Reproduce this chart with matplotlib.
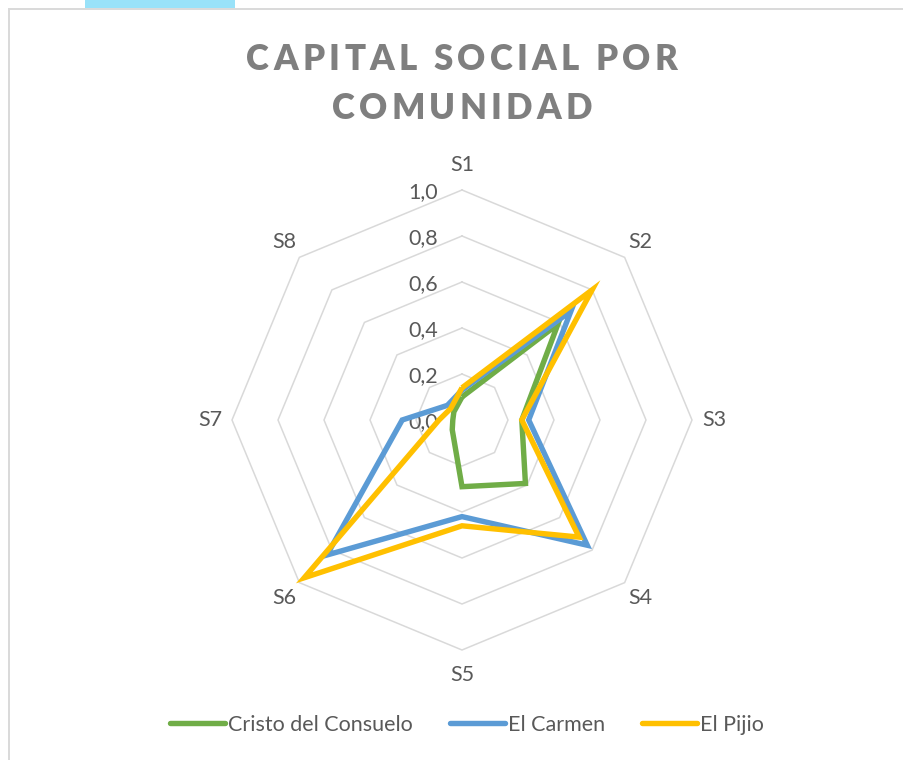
import numpy as np
import matplotlib
matplotlib.use("Agg")
import matplotlib.pyplot as plt
from matplotlib.font_manager import FontProperties
from matplotlib.lines import Line2D
from matplotlib.patches import Rectangle

# ---------------- data ----------------
categories = ["S1", "S2", "S3", "S4", "S5", "S6", "S7", "S8"]
series_names = ["Cristo del Consuelo", "El Carmen", "El Pijio"]
cristo = [0.10, 0.59, 0.26, 0.39, 0.29, 0.06, 0.04, 0.05]
carmen = [0.13, 0.67, 0.29, 0.77, 0.42, 0.83, 0.26, 0.09]
pijio = [0.14, 0.80, 0.26, 0.72, 0.46, 0.97, 0.10, 0.07]
tick_values = [0.0, 0.2, 0.4, 0.6, 0.8, 1.0]
tick_labels = ["0,0", "0,2", "0,4", "0,6", "0,8", "1,0"]
title_lines = ["CAPITAL SOCIAL POR", "COMUNIDAD"]

colors = ["#70AD47", "#5B9BD5", "#FFC000"]
grid_color = "#D9D9D9"
text_color = "#595959"
title_color = "#7F7F7F"
FONT = "Lato"
FS = 15.5

W, H = 904, 760
fig = plt.figure(figsize=(W / 100, H / 100), dpi=100)
fig.patch.set_facecolor("white")

# chart frame + top accent bar (figure pixel coords -> fraction)
fig.patches.append(Rectangle((8.5 / W, -0.1), 1.2, 1 - 9.5 / H + 0.1,
                             transform=fig.transFigure, fill=False,
                             edgecolor="#D9D9D9", linewidth=1.4, zorder=0))
fig.patches.append(Rectangle((85 / W, 1 - 8 / H), 150 / W, 8 / H,
                             transform=fig.transFigure, facecolor="#99E2F9",
                             edgecolor="none", zorder=0))

# axes: center at (462, 420) px, radius 1.0 = 230 px
cx, cy, R = 462, 420, 230
half = 300
ax = fig.add_axes([(cx - half) / W, (H - cy - half) / H, 2 * half / W, 2 * half / H])
lim = half / R
ax.set_xlim(-lim, lim)
ax.set_ylim(-lim, lim)
ax.set_aspect("equal")
ax.axis("off")

n = len(categories)
angles = np.pi / 2 - 2 * np.pi * np.arange(n) / n


def to_xy(vals):
    v = np.asarray(vals, dtype=float)
    x = v * np.cos(angles)
    y = v * np.sin(angles)
    return np.append(x, x[0]), np.append(y, y[0])


# grid octagons
for tv in tick_values[1:]:
    gx, gy = to_xy([tv] * n)
    ax.plot(gx, gy, color=grid_color, lw=1.1, zorder=1, solid_joinstyle="miter")

# tick labels
for tv, tl in zip(tick_values, tick_labels):
    ax.text(-0.105, tv - 0.008, tl, ha="right", va="center", fontsize=FS,
            color=text_color, family=FONT, zorder=2)

# category labels
for a, c in zip(angles, categories):
    rr = 1.11 if abs(np.cos(a)) < 0.1 else 1.095
    ax.text(rr * np.cos(a), rr * np.sin(a), c, ha="center", va="center",
            fontsize=FS, color=text_color, family=FONT)

# data series
handles = []
for vals, col, name in zip([cristo, carmen, pijio], colors, series_names):
    x, y = to_xy(vals)
    ax.plot(x, y, color=col, lw=3.9, zorder=3, solid_joinstyle="miter",
            solid_capstyle="butt")
    handles.append(Line2D([0], [0], color=col, lw=3.9, solid_capstyle="round"))

leg = fig.legend(handles, series_names, loc="center", ncol=3,
                 bbox_to_anchor=(467 / W, 1 - 725 / H), frameon=False,
                 prop=FontProperties(family=FONT, size=FS),
                 handlelength=2.55, handletextpad=0.15, columnspacing=1.7)
for t in leg.get_texts():
    t.set_color(text_color)

# letter-spaced title
renderer = fig.canvas.get_renderer()
tfp = FontProperties(family=FONT, weight="heavy", size=25)
tracking = 4.3  # px
for line, ycen in zip(title_lines, [56, 105.5]):
    widths = [renderer.get_text_width_height_descent(ch, tfp, ismath=False)[0]
              for ch in line]
    total = sum(widths) + tracking * (len(line) - 1)
    x0 = cx - total / 2
    for ch, w in zip(line, widths):
        fig.text(x0 / W, 1 - ycen / H, ch, ha="left", va="center_baseline",
                 fontproperties=tfp, color=title_color)
        x0 += w + tracking

fig.savefig("out.png", dpi=100, facecolor="white")
